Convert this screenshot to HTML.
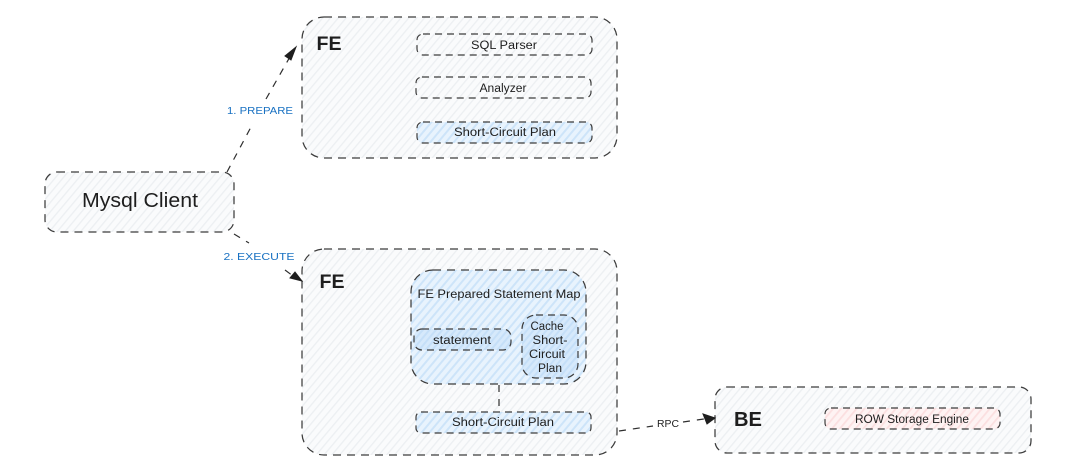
<!DOCTYPE html>
<html>
<head>
<meta charset="utf-8">
<style>
html,body{margin:0;padding:0;background:#fff;width:1080px;height:468px;overflow:hidden}
svg{display:block}
text{font-family:"Liberation Sans",sans-serif;fill:#1e1e1e;text-anchor:middle}
.b{stroke:#3c3c3c;stroke-width:1.25;stroke-dasharray:8 6;fill:none}
.i{stroke:#3c3c3c;stroke-width:1.2;stroke-dasharray:7 5;fill:none}
.l{stroke:#2e2e2e;stroke-width:1.2;stroke-dasharray:7 7;fill:none}
</style>
</head>
<body>
<svg width="1080" height="468" viewBox="0 0 1080 468" xmlns="http://www.w3.org/2000/svg">
<defs>
<pattern id="g" width="6" height="6" patternUnits="userSpaceOnUse" patternTransform="rotate(-50)">
<rect width="6" height="6" fill="#fafbfc"/><rect width="6" height="1.3" fill="#eceff2"/>
</pattern>
<pattern id="c" width="6" height="6" patternUnits="userSpaceOnUse" patternTransform="rotate(-50)">
<rect width="6" height="6" fill="#e8f3fd"/><rect width="6" height="2" fill="#cde4f9"/>
</pattern>
<pattern id="c2" width="5" height="5" patternUnits="userSpaceOnUse" patternTransform="rotate(-50)">
<rect width="5" height="5" fill="#d6e9fb"/><rect width="5" height="2" fill="#c5dff8"/>
</pattern>
<pattern id="r" width="6" height="6" patternUnits="userSpaceOnUse" patternTransform="rotate(-50)">
<rect width="6" height="6" fill="#fef3f3"/><rect width="6" height="1.8" fill="#fbdfe0"/>
</pattern>
</defs>

<!-- Containers -->
<rect x="45" y="172" width="189" height="60" rx="12" class="b" style="fill:url(#g)"/>
<rect x="302" y="17" width="315" height="141" rx="22" class="b" style="fill:url(#g)"/>
<rect x="302" y="249" width="315" height="206" rx="22" class="b" style="fill:url(#g)"/>
<rect x="715" y="387" width="316" height="66" rx="12" class="b" style="fill:url(#g)"/>

<!-- FE 1 inner -->
<rect x="417" y="34" width="175" height="21" rx="6" class="i"/>
<rect x="416" y="77" width="175" height="21" rx="6" class="i"/>
<rect x="417" y="122" width="175" height="21" rx="6" class="i" style="fill:url(#c)"/>

<!-- FE 2 inner -->
<rect x="411" y="270" width="175" height="114" rx="22" class="b" style="fill:url(#c)"/>
<rect x="414" y="329" width="97" height="21" rx="8" class="i" style="fill:url(#c2)"/>
<rect x="522" y="315" width="56" height="63" rx="14" class="i" style="fill:url(#c2)"/>
<rect x="416" y="412" width="175" height="21" rx="5" class="i" style="fill:url(#c)"/>

<!-- BE inner -->
<rect x="825" y="408" width="175" height="21" rx="6" class="i" style="fill:url(#r)"/>

<!-- Connectors -->
<path class="l" d="M227 172 L251 127"/>
<path class="l" d="M266 99 L291 55"/>
<path d="M296 47 L285 56 L291 60 Z" fill="#1e1e1e" stroke="#1e1e1e"/>
<path class="l" d="M234 234 L249 243"/>
<path class="l" d="M285 270 L293 276"/>
<path d="M302 281 L290 278 L295 272 Z" fill="#1e1e1e" stroke="#1e1e1e"/>
<path class="l" d="M499 385 L499 412"/>
<path class="l" d="M619 431 L653 426"/>
<path class="l" d="M683 422 L704 419"/>
<path d="M715 418 L703 414 L707 424 Z" fill="#1e1e1e" stroke="#1e1e1e"/>

<!-- Labels -->
<text x="140" y="207" font-size="20" textLength="116" lengthAdjust="spacingAndGlyphs">Mysql Client</text>
<text x="329" y="50" font-size="19" font-weight="bold" textLength="25" lengthAdjust="spacingAndGlyphs">FE</text>
<text x="332" y="288" font-size="19" font-weight="bold" textLength="25" lengthAdjust="spacingAndGlyphs">FE</text>
<text x="748" y="426" font-size="20" font-weight="bold" textLength="28" lengthAdjust="spacingAndGlyphs">BE</text>

<text x="504" y="49" font-size="11.5" textLength="66" lengthAdjust="spacingAndGlyphs">SQL Parser</text>
<text x="503" y="92" font-size="11.5" textLength="47" lengthAdjust="spacingAndGlyphs">Analyzer</text>
<text x="505" y="136" font-size="11.5" textLength="102" lengthAdjust="spacingAndGlyphs">Short-Circuit Plan</text>
<text x="499" y="298" font-size="11.5" textLength="163" lengthAdjust="spacingAndGlyphs">FE Prepared Statement Map</text>
<text x="462" y="344" font-size="11.5" textLength="58" lengthAdjust="spacingAndGlyphs">statement</text>
<text x="547" y="330" font-size="11.5" textLength="33" lengthAdjust="spacingAndGlyphs">Cache</text>
<text x="550" y="344" font-size="11.5" textLength="35" lengthAdjust="spacingAndGlyphs">Short-</text>
<text x="547" y="358" font-size="11.5" textLength="36" lengthAdjust="spacingAndGlyphs">Circuit</text>
<text x="550" y="372" font-size="11.5" textLength="24" lengthAdjust="spacingAndGlyphs">Plan</text>
<text x="503" y="426" font-size="11.5" textLength="102" lengthAdjust="spacingAndGlyphs">Short-Circuit Plan</text>
<text x="912" y="423" font-size="11.5" textLength="114" lengthAdjust="spacingAndGlyphs">ROW Storage Engine</text>
<text x="668" y="427" font-size="10.5" textLength="22" lengthAdjust="spacingAndGlyphs">RPC</text>
<text x="260" y="114" font-size="10.5" textLength="66" lengthAdjust="spacingAndGlyphs" style="fill:#1971c2">1. PREPARE</text>
<text x="259" y="260" font-size="10.5" textLength="71" lengthAdjust="spacingAndGlyphs" style="fill:#1971c2">2. EXECUTE</text>
</svg>
</body>
</html>
